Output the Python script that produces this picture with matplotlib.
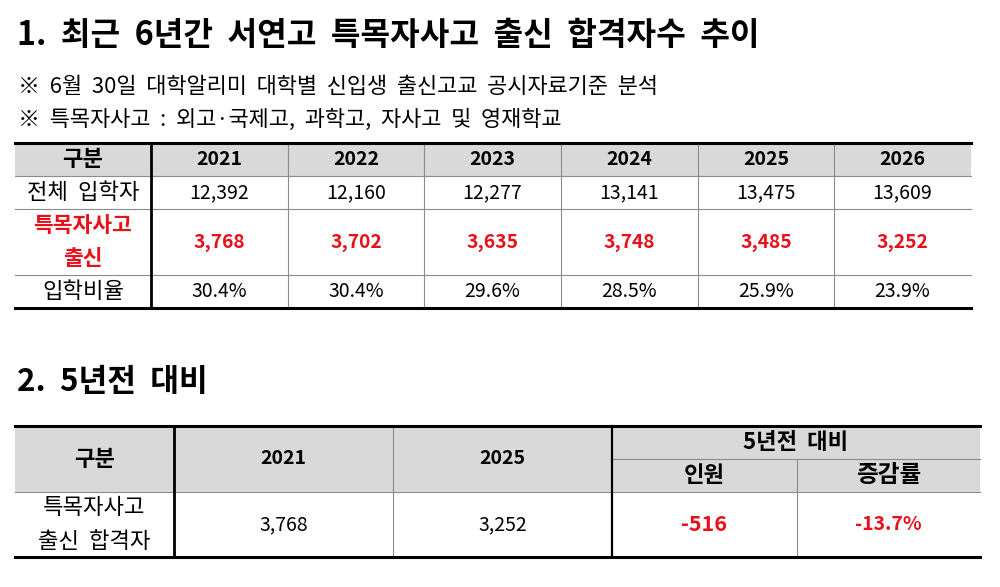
import matplotlib.pyplot as plt

plt.rcParams['font.family'] = ['Noto Sans CJK KR', 'DejaVu Sans']

# 1. 최근 6년간 데이터
years = ['2021', '2022', '2023', '2024', '2025', '2026']
total = ['12,392', '12,160', '12,277', '13,141', '13,475', '13,609']
special = ['3,768', '3,702', '3,635', '3,748', '3,485', '3,252']
ratio = ['30.4%', '30.4%', '29.6%', '28.5%', '25.9%', '23.9%']
row_labels = ['전체  입학자', '특목자사고\n출신', '입학비율']

# 2. 5년전 대비
cmp_years = ['2021', '2025']
cmp_values = ['3,768', '3,252']
cmp_diff = '-516'
cmp_rate = '-13.7%'

title1 = '1.  최근  6년간  서연고  특목자사고  출신  합격자수  추이'
notes = ['※  6월  30일  대학알리미  대학별  신입생  출신고교  공시자료기준  분석',
         '※  특목자사고  :  외고·국제고,  과학고,  자사고  및  영재학교']
title2 = '2.  5년전  대비'

RED = '#e8101a'
GRAY = '#d9d9d9'
LINE = '#8c8c8c'
KO = 16      # korean text size
NUM = 14     # numbers size

fig = plt.figure(figsize=(10, 5.87), dpi=100)
ax = fig.add_axes([0, 0, 1, 1])
ax.set_xlim(0, 1000)
ax.set_ylim(587, 0)
ax.axis('off')

ax.text(17, 36, title1, fontsize=23.2, fontweight='bold', va='center', ha='left')
ax.text(18, 87, notes[0], fontsize=15.8, va='center', ha='left')
ax.text(18, 120, notes[1], fontsize=15.8, va='center', ha='left')

# table 1
x_edges = [15, 151, 288, 424, 561, 698, 834, 971]
y_edges = [143, 176, 209, 275, 308]
ax.fill_between([x_edges[0], x_edges[-1]], y_edges[0], y_edges[1], color=GRAY, lw=0)
for y in y_edges[1:-1]:
    ax.plot([x_edges[0], x_edges[-1]], [y, y], color=LINE, lw=0.8)
for x in x_edges[2:-1]:
    ax.plot([x, x], [y_edges[0], y_edges[-1]], color=LINE, lw=0.8)
ax.plot([x_edges[1], x_edges[1]], [y_edges[0], y_edges[-1]], color='black', lw=2)
ax.plot([x_edges[0], x_edges[-1]], [y_edges[0], y_edges[0]], color='black', lw=2.2)
ax.plot([x_edges[0], x_edges[-1]], [y_edges[-1], y_edges[-1]], color='black', lw=2.2)

def cx(i):
    return (x_edges[i] + x_edges[i + 1]) / 2

def cy(j):
    return (y_edges[j] + y_edges[j + 1]) / 2

ax.text(cx(0), cy(0), '구분', fontsize=KO, fontweight='bold', ha='center', va='center')
for i, yr in enumerate(years):
    ax.text(cx(i + 1), cy(0), yr, fontsize=NUM, fontweight='bold', ha='center', va='center')
ax.text(cx(0), cy(1), row_labels[0], fontsize=KO, ha='center', va='center')
ax.text(cx(0), cy(2), row_labels[1], fontsize=15.5, fontweight='bold', color=RED,
        ha='center', va='center', linespacing=1.65)
ax.text(cx(0), cy(3), row_labels[2], fontsize=KO, ha='center', va='center')
for i in range(len(years)):
    ax.text(cx(i + 1), cy(1), total[i], fontsize=NUM, ha='center', va='center')
    ax.text(cx(i + 1), cy(2), special[i], fontsize=13.8, fontweight='bold', color=RED,
            ha='center', va='center')
    ax.text(cx(i + 1), cy(3), ratio[i], fontsize=NUM, ha='center', va='center')

# title 2
ax.text(17, 382, title2, fontsize=22.5, fontweight='bold', va='center', ha='left')

# table 2
bx = [15, 174, 393, 612, 797, 980]
by = [426, 459, 492, 557]
ax.fill_between([bx[0], bx[-1]], by[0], by[2], color=GRAY, lw=0)
ax.plot([bx[3], bx[-1]], [by[1], by[1]], color=LINE, lw=0.8)
ax.plot([bx[0], bx[-1]], [by[2], by[2]], color=LINE, lw=0.8)
ax.plot([bx[2], bx[2]], [by[0], by[-1]], color=LINE, lw=0.8)
ax.plot([bx[4], bx[4]], [by[1], by[-1]], color=LINE, lw=0.8)
ax.plot([bx[1], bx[1]], [by[0], by[-1]], color='black', lw=2)
ax.plot([bx[3], bx[3]], [by[0], by[-1]], color='black', lw=1.6)
ax.plot([bx[0], bx[-1]], [by[0], by[0]], color='black', lw=2.2)
ax.plot([bx[0], bx[-1]], [by[-1], by[-1]], color='black', lw=2.2)

hy = (by[0] + by[2]) / 2
ax.text((bx[0] + bx[1]) / 2, hy, '구분', fontsize=KO, fontweight='bold', ha='center', va='center')
for i, yr in enumerate(cmp_years):
    ax.text((bx[i + 1] + bx[i + 2]) / 2, hy, yr, fontsize=NUM, fontweight='bold',
            ha='center', va='center')
ax.text((bx[3] + bx[5]) / 2, (by[0] + by[1]) / 2, '5년전  대비', fontsize=KO,
        fontweight='bold', ha='center', va='center')
ax.text((bx[3] + bx[4]) / 2, (by[1] + by[2]) / 2, '인원', fontsize=KO,
        fontweight='bold', ha='center', va='center')
ax.text((bx[4] + bx[5]) / 2, (by[1] + by[2]) / 2, '증감률', fontsize=KO + 1,
        fontweight='bold', ha='center', va='center')

ry = (by[2] + by[3]) / 2
ax.text((bx[0] + bx[1]) / 2, ry, '특목자사고\n출신  합격자', fontsize=KO,
        ha='center', va='center', linespacing=1.6)
for i, v in enumerate(cmp_values):
    ax.text((bx[i + 1] + bx[i + 2]) / 2, ry, v, fontsize=NUM, ha='center', va='center')
ax.text((bx[3] + bx[4]) / 2, ry, cmp_diff, fontsize=15.5, fontweight='bold', color=RED,
        ha='center', va='center')
ax.text((bx[4] + bx[5]) / 2, ry, cmp_rate, fontsize=14, fontweight='bold', color=RED,
        ha='center', va='center')

fig.savefig('out.png', dpi=100)
